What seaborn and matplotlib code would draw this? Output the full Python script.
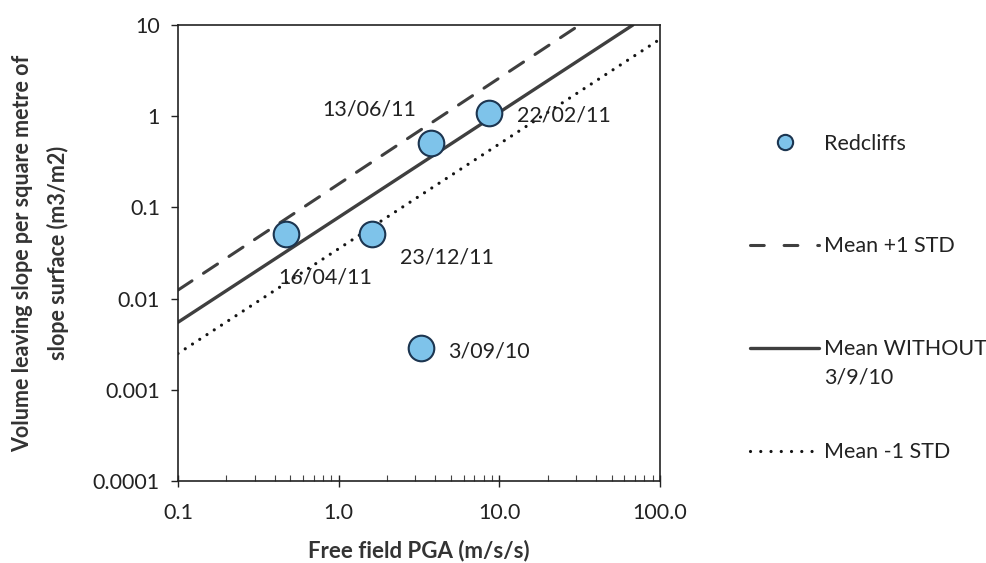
import matplotlib
matplotlib.use("Agg")
import matplotlib.pyplot as plt
import seaborn as sns
import pandas as pd
from matplotlib.ticker import FixedLocator, LogLocator, NullFormatter
from matplotlib.lines import Line2D

# ---- data ----
event_labels = ["16/04/11", "23/12/11", "13/06/11", "22/02/11", "3/09/10"]
pga = [0.47, 1.61, 3.75, 8.6, 3.25]
volume = [0.051, 0.051, 0.51, 1.08, 0.0029]

mean_x = [0.1, 67.8]
mean_y = [0.0055, 10.0]
plus_x = [0.1, 31.6]
plus_y = [0.0124, 10.0]
minus_x = [0.1, 100.0]
minus_y = [0.0025, 7.0]

x_ticks = [0.1, 1.0, 10.0, 100.0]
x_ticklabels = ["0.1", "1.0", "10.0", "100.0"]
y_ticks = [0.0001, 0.001, 0.01, 0.1, 1, 10]
y_ticklabels = ["0.0001", "0.001", "0.01", "0.1", "1", "10"]

legend_labels = ["Redcliffs", "Mean +1 STD", "Mean WITHOUT", "Mean -1 STD"]
legend_extra = "3/9/10"

# label offsets in pixels (style)
label_offsets = [(-8, -43), (28, -23), (-109, 33), (28, -2), (27, -4)]

sns.set_theme(style="white")
plt.rcParams["font.family"] = ["Lato", "DejaVu Sans"]

fig = plt.figure(figsize=(9.86, 5.63), dpi=100)
ax = fig.add_axes([0.1805, 0.1456, 0.4889, 0.81])

line_color = "#3f3f3f"
dash_style = (0, (5.5, 4.5))
dot_style = (0, (0.01, 2.7))
df_pts = pd.DataFrame({"pga": pga, "vol": volume})
df_mean = pd.DataFrame({"x": mean_x, "y": mean_y})
df_plus = pd.DataFrame({"x": plus_x, "y": plus_y})
df_minus = pd.DataFrame({"x": minus_x, "y": minus_y})

sns.lineplot(data=df_plus, x="x", y="y", ax=ax, color=line_color, lw=2.2,
             linestyle=dash_style, dash_capstyle="round")
sns.lineplot(data=df_mean, x="x", y="y", ax=ax, color=line_color, lw=2.4)
sns.lineplot(data=df_minus, x="x", y="y", ax=ax, color="#151515", lw=2.3,
             linestyle=dot_style, dash_capstyle="round")
sns.scatterplot(data=df_pts, x="pga", y="vol", ax=ax, s=340, color="#7ec3ea",
                edgecolor="#1c3550", linewidth=1.5, zorder=5)

ax.set_xscale("log")
ax.set_yscale("log")
ax.set_xlim(0.1, 100)
ax.set_ylim(0.0001, 10)

for lab, x, y, off in zip(event_labels, pga, volume, label_offsets):
    ax.annotate(lab, (x, y), xytext=off, textcoords="offset pixels",
                ha="left", va="center", fontsize=15.5, color="#222222", zorder=6)

ax.xaxis.set_major_locator(FixedLocator(x_ticks))
ax.set_xticklabels(x_ticklabels)
ax.xaxis.set_minor_locator(LogLocator(base=10, subs=range(2, 10)))
ax.xaxis.set_minor_formatter(NullFormatter())
ax.yaxis.set_major_locator(FixedLocator(y_ticks))
ax.set_yticklabels(y_ticklabels)
ax.yaxis.set_minor_locator(FixedLocator([]))

ax.tick_params(axis="x", which="major", direction="inout", length=8, width=1,
               labelsize=15.5, colors="#222222", pad=12, bottom=True)
ax.tick_params(axis="x", which="minor", direction="in", length=4, width=0.8,
               colors="#444444", bottom=True)
ax.tick_params(axis="y", which="major", direction="out", length=5, width=1,
               labelsize=15.5, colors="#222222", pad=8, left=True)

for sp in ax.spines.values():
    sp.set_visible(True)
    sp.set_color("#222222")
    sp.set_linewidth(1.2)

ax.set_xlabel("Free field PGA (m/s/s)", fontsize=16, fontweight="bold",
              color="#333333", labelpad=12)
ax.set_ylabel("Volume leaving slope per square metre of\nslope surface (m3/m2)",
              fontsize=15.5, fontweight="bold", color="#333333", labelpad=17,
              linespacing=1.8)

handles = [
    Line2D([], [], marker="o", linestyle="none", markersize=11,
           markerfacecolor="#7ec3ea", markeredgecolor="#1c3550", markeredgewidth=1.5),
    Line2D([], [], color=line_color, lw=2.2, linestyle=(0, (4.5, 6.5)), dash_capstyle="round"),
    Line2D([], [], color=line_color, lw=2.4),
    Line2D([], [], color="#151515", lw=2.3, linestyle=(0, (0.01, 3.2)), dash_capstyle="round"),
]
leg = fig.legend(handles, legend_labels, loc="upper left", bbox_to_anchor=(0.752, 0.778),
                 frameon=False, fontsize=15.5, labelspacing=3.85, handlelength=3.2,
                 handletextpad=0.25, borderaxespad=0)
for t in leg.get_texts():
    t.set_color("#222222")

fig.canvas.draw()
inv = fig.transFigure.inverted()
bb = leg.get_texts()[2].get_window_extent()
x0, y0 = inv.transform((bb.x0, bb.y0))
fig.text(x0, y0 - 28 / 563, legend_extra, fontsize=15.5, color="#222222",
         ha="left", va="bottom")

fig.savefig("out.png", dpi=100)
